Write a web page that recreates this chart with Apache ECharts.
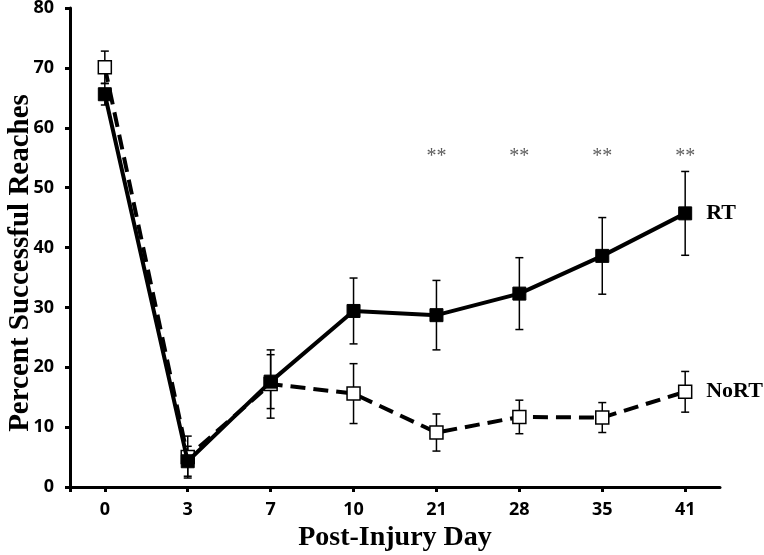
<!DOCTYPE html>
<html>
<head>
<meta charset="utf-8">
<script src="https://cdn.jsdelivr.net/npm/echarts@6/dist/echarts.min.js"></script>
<style>html,body{margin:0;padding:0;background:#fff}#c{width:764px;height:555px}</style>
</head>
<body>
<div id="c"></div>
<script>
const days = ['0', '3', '7', '10', '21', '28', '35', '41'];
const rtMean = [65.6, 4.3, 17.6, 29.4, 28.7, 32.3, 38.6, 45.7];
const rtErr = [1.8, 2.5, 4.5, 5.5, 5.8, 6.0, 6.4, 7.0];
const noRtMean = [70.1, 5.0, 17.2, 15.6, 9.1, 11.7, 11.6, 15.9];
const noRtErr = [2.7, 3.5, 5.7, 5.0, 3.1, 2.8, 2.5, 3.4];
const sigDays = ['21', '28', '35', '41'];
const sigLevel = 55.2;
const sigText = '**';

const xMin = -0.42, xMax = 7.42;
const idx = days.map((d, i) => i);
const chart = echarts.init(document.getElementById('c'));

function errSeries(name, mean, err) {
  return {
    type: 'custom',
    name: name + ' err',
    z: 1,
    silent: true,
    data: mean.map((m, i) => [i, m - err[i], m + err[i]]),
    renderItem: function (params, api) {
      const lo = api.coord([api.value(0), api.value(1)]);
      const hi = api.coord([api.value(0), api.value(2)]);
      const w = 4;
      const st = { stroke: '#000', lineWidth: 1.5 };
      return {
        type: 'group',
        children: [
          { type: 'line', shape: { x1: lo[0], y1: lo[1], x2: hi[0], y2: hi[1] }, style: st },
          { type: 'line', shape: { x1: lo[0] - w, y1: lo[1], x2: lo[0] + w, y2: lo[1] }, style: st },
          { type: 'line', shape: { x1: hi[0] - w, y1: hi[1], x2: hi[0] + w, y2: hi[1] }, style: st }
        ]
      };
    }
  };
}

const endLabelStyle = {
  show: true,
  formatter: '{a}',
  color: '#000',
  fontFamily: '"Liberation Serif", "DejaVu Serif", serif',
  fontWeight: 'bold',
  fontSize: 22,
  distance: 21
};

chart.setOption({
  animation: false,
  grid: { left: 70, right: 44, top: 8, bottom: 68, outerBoundsMode: 'none' },
  xAxis: {
    type: 'value',
    min: xMin,
    max: xMax,
    splitLine: { show: false },
    axisLine: { onZero: false, lineStyle: { color: '#000', width: 3 } },
    axisTick: { show: true, customValues: [xMin].concat(idx), length: 5, lineStyle: { color: '#000', width: 3 } },
    axisLabel: {
      customValues: idx,
      formatter: v => days[Math.round(v)],
      color: '#000',
      fontFamily: '"Open Sans", sans-serif',
      fontWeight: 'bold',
      fontSize: 18,
      margin: 14
    },
    name: 'Post-Injury Day',
    nameLocation: 'middle',
    nameGap: 32,
    nameTextStyle: {
      color: '#000',
      fontFamily: '"Liberation Serif", "DejaVu Serif", serif',
      fontWeight: 'bold',
      fontSize: 28
    }
  },
  yAxis: {
    type: 'value',
    min: 0,
    max: 80,
    interval: 10,
    splitLine: { show: false },
    axisLine: { show: true, onZero: false, lineStyle: { color: '#000', width: 3 } },
    axisTick: { show: true, length: 5, lineStyle: { color: '#000', width: 3 } },
    axisLabel: {
      color: '#000',
      fontFamily: '"Open Sans", sans-serif',
      fontWeight: 'bold',
      fontSize: 18,
      margin: 16
    }
  },
  graphic: [{
    type: 'text',
    x: 21,
    y: 263,
    rotation: Math.PI / 2,
    style: {
      text: 'Percent Successful Reaches',
      font: 'bold 29px "Liberation Serif", "DejaVu Serif", serif',
      fill: '#000',
      textAlign: 'center',
      textVerticalAlign: 'middle'
    }
  }],
  series: [
    errSeries('NoRT', noRtMean, noRtErr),
    errSeries('RT', rtMean, rtErr),
    {
      type: 'line',
      name: 'NoRT',
      z: 3,
      data: noRtMean.map((v, i) => [i, v]),
      symbol: 'rect',
      symbolSize: 13,
      itemStyle: { color: '#fff', borderColor: '#000', borderWidth: 1.5 },
      lineStyle: { color: '#000', width: 4, type: [15, 8] },
      endLabel: endLabelStyle
    },
    {
      type: 'line',
      name: 'RT',
      z: 4,
      data: rtMean.map((v, i) => [i, v]),
      symbol: 'rect',
      symbolSize: 13,
      itemStyle: { color: '#000', borderColor: '#000', borderWidth: 1 },
      lineStyle: { color: '#000', width: 4, type: 'solid' },
      endLabel: endLabelStyle
    },
    {
      type: 'scatter',
      name: 'sig',
      z: 5,
      silent: true,
      symbolSize: 2,
      itemStyle: { color: 'rgba(0,0,0,0)' },
      data: sigDays.map(d => [days.indexOf(d), sigLevel]),
      label: {
        show: true,
        position: 'inside',
        formatter: sigText,
        color: '#333',
        fontFamily: '"Liberation Serif", "DejaVu Serif", serif',
        fontSize: 20
      }
    }
  ]
});
</script>
</body>
</html>
